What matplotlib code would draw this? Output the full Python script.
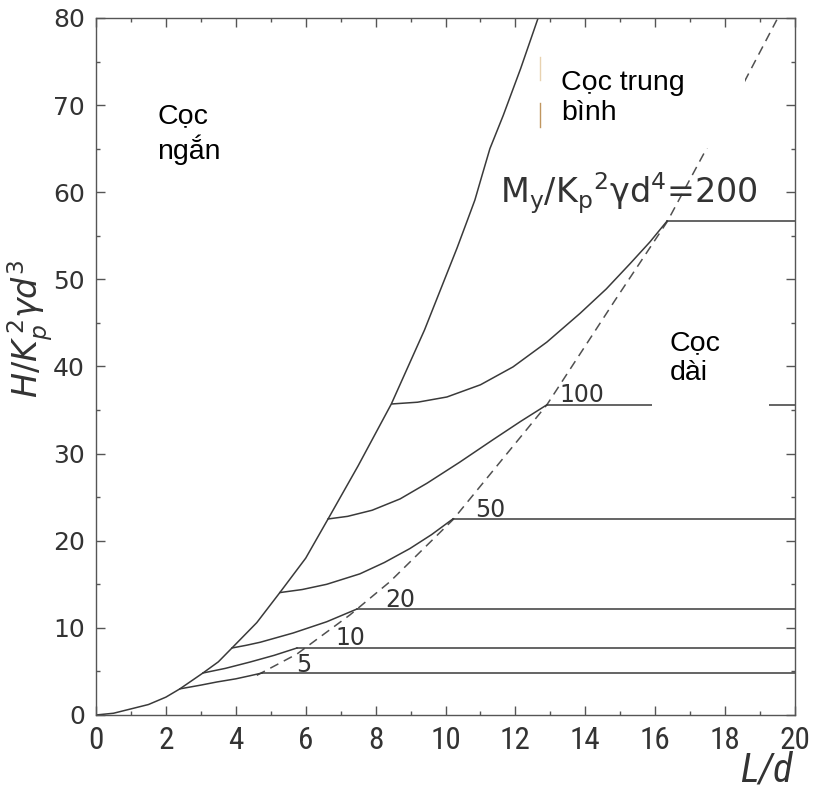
import numpy as np
import matplotlib
matplotlib.use('Agg')
import matplotlib.pyplot as plt
import matplotlib.patches as mpatches
from matplotlib.ticker import MultipleLocator

# short pile boundary (solid, starts at origin)
short_x = [0.0, 0.5, 1.0, 1.5, 2.0, 2.4, 3.06, 3.5, 3.89, 4.6, 5.26, 6.0, 6.64, 7.5, 8.45,
           9.4, 10.33, 10.6, 10.84, 11.05, 11.27, 11.65, 12.15, 12.65]
short_y = [0.0, 0.2, 0.7, 1.2, 2.05, 3.0, 4.82, 6.1, 7.69, 10.6, 14.05, 18.0, 22.5, 28.6, 35.7,
           44.2, 53.6, 56.5, 59.1, 62.0, 65.0, 68.8, 74.2, 80.0]

# long pile boundary (dashed)
long_x = [4.6, 5.75, 7.27, 8.41, 10.21, 12.9, 14.85, 16.34, 17.48, 18.54, 19.48]
long_y = [4.55, 7.0, 11.5, 15.3, 22.4, 35.6, 47.6, 56.6, 65.1, 72.6, 79.8]

# intermediate piles, one curve per My/Kp^2*gamma*d^4 value
my_values = [5, 10, 20, 50, 100, 200]
mid_5_x = [2.40, 3.0, 3.46, 4.0, 4.4, 4.75]
mid_5_y = [3.0, 3.43, 3.79, 4.15, 4.5, 4.82]
mid_10_x = [3.06, 3.7, 4.41, 5.1, 5.75]
mid_10_y = [4.82, 5.35, 6.08, 6.85, 7.69]
mid_20_x = [3.89, 4.3, 4.7, 5.64, 6.6, 7.47]
mid_20_y = [7.69, 8.0, 8.35, 9.41, 10.7, 12.17]
mid_50_x = [5.26, 5.9, 6.6, 7.55, 8.25, 8.98, 9.6, 10.21]
mid_50_y = [14.05, 14.4, 15.0, 16.2, 17.5, 19.1, 20.7, 22.5]
mid_100_x = [6.64, 7.2, 7.9, 8.7, 9.47, 10.4, 11.36, 12.15, 12.9]
mid_100_y = [22.5, 22.8, 23.5, 24.8, 26.6, 29.0, 31.6, 33.7, 35.6]
mid_200_x = [8.47, 9.2, 10.04, 11.0, 11.93, 12.9, 13.85, 14.6, 15.28, 15.85, 16.34]
mid_200_y = [35.7, 35.9, 36.5, 37.9, 39.95, 42.8, 46.1, 48.9, 51.8, 54.3, 56.7]
mid_x = [mid_5_x, mid_10_x, mid_20_x, mid_50_x, mid_100_x, mid_200_x]
mid_y = [mid_5_y, mid_10_y, mid_20_y, mid_50_y, mid_100_y, mid_200_y]

# where the small value labels sit
label_pos = [(5.95, 5.7), (7.27, 8.8), (8.7, 13.2), (11.27, 23.5), (13.9, 36.7)]

cond = ['Roboto Condensed', 'DejaVu Sans']

line_c = '#3a3a3a'
fig = plt.figure(figsize=(8.17, 7.89), dpi=100)
ax = fig.add_axes([0.1175, 0.0938, 0.8556, 0.8834])

ax.plot(short_x, short_y, color=line_c, lw=1.1)
ax.plot(long_x, long_y, color='#505050', lw=1.1, linestyle=(0, (6, 4)))
for xs, ys in zip(mid_x, mid_y):
    ax.plot(xs, ys, color=line_c, lw=1.1)
    # plateau once the curve meets the long pile boundary
    ax.plot([xs[-1], 20], [ys[-1], ys[-1]], color=line_c, lw=1.1)

# white boxes behind the region names
ax.add_patch(mpatches.Rectangle((12.7, 65.1), 5.87, 11.2, facecolor='white',
                                edgecolor='none', zorder=3))
ax.add_patch(mpatches.Rectangle((15.9, 33.6), 3.36, 12.0, facecolor='white',
                                edgecolor='none', zorder=3))
ax.plot([12.7, 12.7], [72.9, 75.5], color='#e8d2b0', lw=1.0, zorder=4)
ax.plot([12.7, 12.7], [67.5, 70.3], color='#c09660', lw=1.0, zorder=4)

txt_font = ['Liberation Sans', 'DejaVu Sans']
ax.text(1.75, 66.7, 'Cọc\nngắn', family=txt_font, fontsize=20.5, va='center', ha='left', zorder=5)
ax.text(13.3, 70.8, 'Cọc trung\nbình', family=txt_font, fontsize=20.5, va='center', ha='left', zorder=5)
ax.text(16.42, 41.0, 'Cọc\ndài', family=txt_font, fontsize=20.5, va='center', ha='left', zorder=5)

ax.text(11.55, 59.9, r'$\mathrm{M_y/K_p{}^2\gamma d^4}$=200', math_fontfamily='dejavusans',
        fontsize=24, va='center', ha='left', color='#333333', zorder=5)
for v, (lx, ly) in zip(my_values[:-1], label_pos):
    ax.text(lx, ly, str(v), fontsize=17, ha='center', va='center', color='#333333', zorder=5)

ax.set_xlim(0, 20)
ax.set_ylim(0, 80)
ax.xaxis.set_major_locator(MultipleLocator(2))
ax.xaxis.set_minor_locator(MultipleLocator(1))
ax.yaxis.set_major_locator(MultipleLocator(10))
ax.yaxis.set_minor_locator(MultipleLocator(5))
ax.tick_params(which='both', direction='in', top=True, right=True, color='#555555', width=1.0)
ax.tick_params(which='major', length=6.5)
ax.tick_params(which='minor', length=3)
ax.tick_params(axis='y', labelsize=18, pad=8, labelcolor='#333333')
ax.tick_params(axis='x', pad=8, labelcolor='#333333')
for lab in ax.get_xticklabels():
    lab.set_fontfamily(cond)
    lab.set_fontsize(22.5)
for sp in ax.spines.values():
    sp.set_color('#555555')
    sp.set_linewidth(1.0)

ax.text(0.996, -0.095, 'L/d', transform=ax.transAxes, family=cond, style='italic',
        fontsize=29, ha='right', va='baseline', color='#333333')
ax.text(-0.094, 0.554, r'$H/K_p^{\,2}\gamma d^3$', transform=ax.transAxes, fontsize=24,
        math_fontfamily='dejavusans', rotation=90, ha='center', va='center', color='#333333')

fig.savefig('out.png', dpi=100)
